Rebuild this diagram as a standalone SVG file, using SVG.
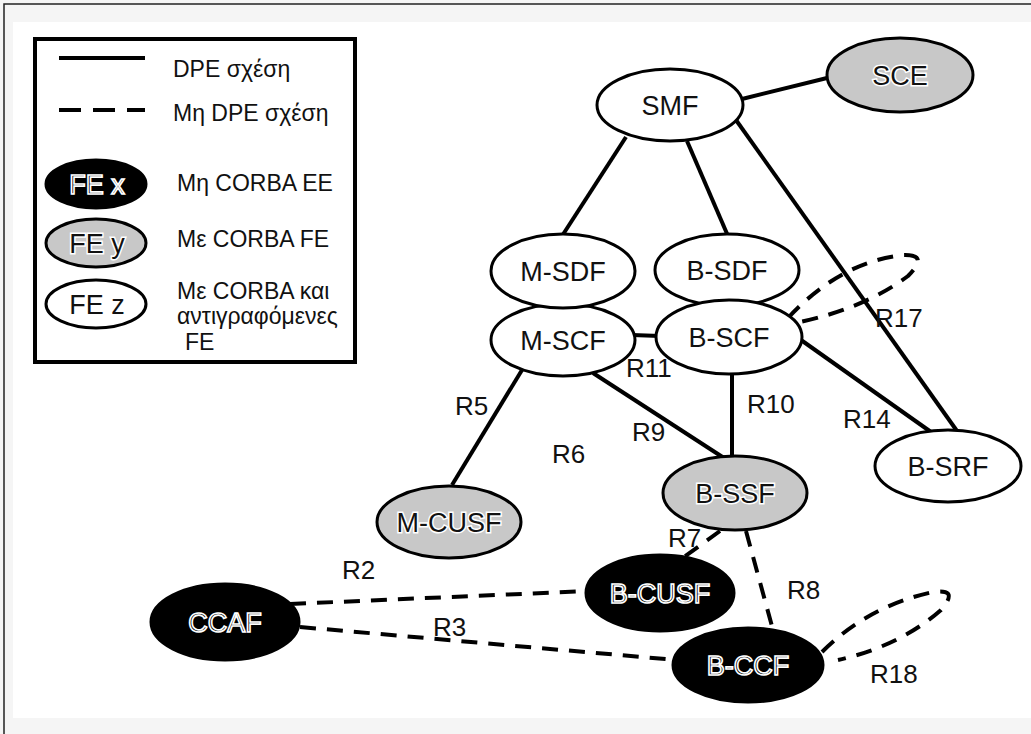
<svg xmlns="http://www.w3.org/2000/svg" width="1031" height="734" viewBox="0 0 1031 734">
<style>
.ln{stroke:#000;stroke-width:4;fill:none;stroke-linecap:butt}
.dl{stroke:#000;stroke-width:4;fill:none;stroke-dasharray:16 11}
.nd{stroke:#000;stroke-width:3}
.w{fill:#fff}
.g{fill:#c8c8c8}
.b{fill:#000}
text{font-family:"Liberation Sans",Arial,sans-serif}
.lab{font-size:27px;text-anchor:middle;fill:#111}
.lg{font-size:27px;text-anchor:middle;fill:#111;stroke:#fff;stroke-width:3;paint-order:stroke}
.lb{font-size:27px;text-anchor:middle;fill:#000;stroke:#fff;stroke-width:1.6}
.r{font-size:26px;fill:#111}
.leg{font-size:23px;fill:#111}
</style>
<rect x="0" y="0" width="1031" height="734" fill="#f5f5f5"/>
<rect x="13" y="22" width="1018" height="696" fill="#fff"/>
<path d="M4,734 V4 H1031" fill="none" stroke="#222" stroke-width="1.5"/>

<g id="legend">
<rect x="35" y="39" width="320" height="323" fill="#fff" stroke="#000" stroke-width="4"/>
<line x1="59" y1="58" x2="145" y2="58" class="ln"/>
<text x="173" y="77" class="leg">DPE σχέση</text>
<line x1="59" y1="110" x2="145" y2="110" class="ln" stroke-dasharray="22 12"/>
<text x="173" y="121" class="leg">Μη DPE σχέση</text>
<ellipse cx="96" cy="184" rx="50" ry="24" class="nd b"/>
<text x="97" y="194" class="lb">FE x</text>
<text x="177" y="191" class="leg">Μη CORBA EE</text>
<ellipse cx="96" cy="243" rx="50" ry="24" class="nd g"/>
<text x="97" y="253" class="lg">FE y</text>
<text x="177" y="247" class="leg">Με CORBA FE</text>
<ellipse cx="96" cy="304" rx="50" ry="24" class="nd w"/>
<text x="97" y="314" class="lab">FE z</text>
<text x="177" y="299" class="leg">Με CORBA και</text>
<text x="177" y="324" class="leg">αντιγραφόμενες</text>
<text x="185" y="350" class="leg">FE</text>
</g>

<g id="connectors">
<line x1="742" y1="99" x2="827" y2="78" class="ln"/>
<line x1="626" y1="137" x2="562" y2="236" class="ln"/>
<line x1="687" y1="141" x2="728" y2="236" class="ln"/>
<line x1="736" y1="120" x2="957" y2="431" class="ln"/>
<line x1="632" y1="335" x2="660" y2="336" class="ln"/>
<line x1="522" y1="370" x2="452" y2="485" class="ln"/>
<line x1="593" y1="373" x2="724" y2="458" class="ln"/>
<line x1="732" y1="374" x2="732" y2="458" class="ln"/>
<line x1="801" y1="340" x2="931" y2="432" class="ln"/>
<line x1="720" y1="531" x2="680" y2="560" class="dl"/>
<line x1="746" y1="531" x2="773" y2="630" class="dl"/>
<line x1="290" y1="604" x2="588" y2="591" class="dl"/>
<line x1="300" y1="627" x2="676" y2="660" class="dl"/>
<path d="M788,318 Q840,262 903,255 Q930,254 908,276 Q865,308 800,322" class="dl"/>
<path d="M822,652 Q868,606 933,592 Q960,588 941,610 Q900,646 838,660" class="dl"/>
</g>

<g id="SMF"><ellipse cx="670" cy="105" rx="73" ry="36" class="nd w"/><text x="670" y="115" class="lab">SMF</text></g>
<g id="SCE"><ellipse cx="900" cy="75" rx="73" ry="37" class="nd g"/><text x="900" y="85" class="lg">SCE</text></g>
<g id="M-SCF"><ellipse cx="563" cy="340" rx="72" ry="36" class="nd w"/><text x="563" y="350" class="lab">M-SCF</text></g>
<g id="M-SDF"><ellipse cx="563" cy="271" rx="72" ry="37" class="nd w"/><text x="563" y="281" class="lab">M-SDF</text></g>
<g id="B-SDF"><ellipse cx="727" cy="270" rx="72" ry="36" class="nd w"/><text x="727" y="280" class="lab">B-SDF</text></g>
<g id="B-SCF"><ellipse cx="729" cy="337" rx="73" ry="37" class="nd w"/><text x="729" y="347" class="lab">B-SCF</text></g>
<g id="M-CUSF"><ellipse cx="449" cy="522" rx="72" ry="36" class="nd g"/><text x="449" y="532" class="lg">M-CUSF</text></g>
<g id="B-SSF"><ellipse cx="735" cy="493" rx="72" ry="37" class="nd g"/><text x="735" y="503" class="lg">B-SSF</text></g>
<g id="B-SRF"><ellipse cx="948" cy="466" rx="73" ry="36" class="nd w"/><text x="948" y="476" class="lab">B-SRF</text></g>
<g id="B-CUSF"><ellipse cx="660" cy="593" rx="74" ry="38" class="nd b"/><text x="660" y="603" class="lb">B-CUSF</text></g>
<g id="CCAF"><ellipse cx="225" cy="622" rx="74" ry="38" class="nd b"/><text x="225" y="632" class="lb">CCAF</text></g>
<g id="B-CCF"><ellipse cx="748" cy="665" rx="75" ry="37" class="nd b"/><text x="748" y="675" class="lb">B-CCF</text></g>

<g id="labels">
<text x="455" y="415" class="r">R5</text>
<text x="552" y="463" class="r">R6</text>
<text x="632" y="441" class="r">R9</text>
<text x="626" y="377" class="r">R11</text>
<text x="747" y="413" class="r">R10</text>
<text x="843" y="428" class="r">R14</text>
<text x="875" y="327" class="r">R17</text>
<text x="668" y="547" class="r">R7</text>
<text x="787" y="599" class="r">R8</text>
<text x="342" y="579" class="r">R2</text>
<text x="433" y="636" class="r">R3</text>
<text x="870" y="683" class="r">R18</text>
</g>
</svg>
